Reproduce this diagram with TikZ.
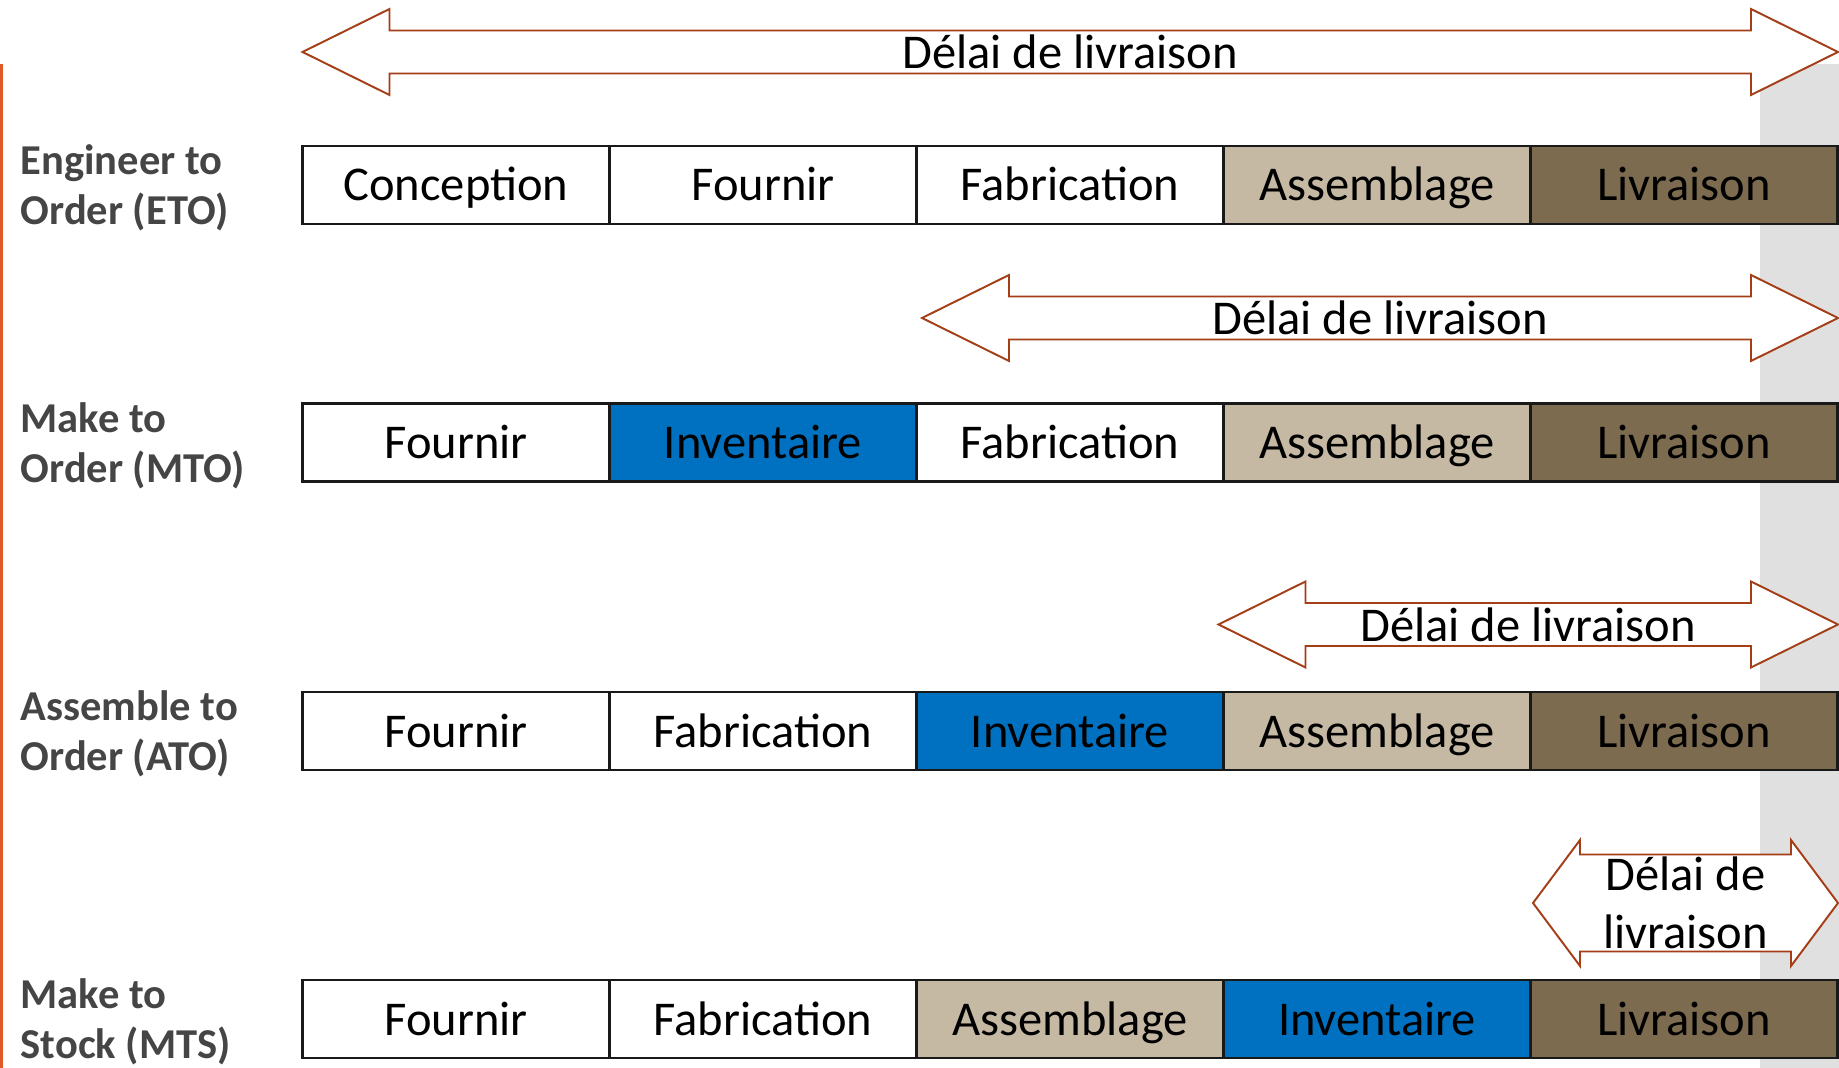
\documentclass[tikz,border=0pt]{standalone}
\usepackage{fontspec}
\setmainfont{Carlito}
\definecolor{bleuinv}{HTML}{0070C0}
\definecolor{beige}{HTML}{C5B9A4}
\definecolor{brun}{HTML}{7C6B4F}
\definecolor{rouille}{HTML}{A43E17}
\definecolor{orangebord}{HTML}{DD5A26}
\definecolor{grisbande}{HTML}{E0E0E0}
\definecolor{grislabel}{HTML}{454545}
\begin{document}
\begin{tikzpicture}[x=0.01cm,y=-0.01cm,line join=miter,
	etape/.style={draw=black!90,line width=0.8pt,minimum width=3.07cm,minimum height=0.78cm,inner sep=0pt,text height=0.32cm,text depth=0pt,font=\fontsize{13.8}{16}\selectfont},
	blanc/.style={fill=white},bleu/.style={fill=bleuinv},sable/.style={fill=beige},brunfonce/.style={fill=brun},
	modele/.style={anchor=west,align=left,inner sep=0pt,text=grislabel,font=\bfseries\fontsize{12.1}{14.3}\selectfont},
	fleche/.style={draw=rouille,fill=white,line width=0.55pt},
	delai/.style={align=center,inner sep=0pt,font=\fontsize{13.8}{16.5}\selectfont}]
	\useasboundingbox (0,0) rectangle (1839,1068);
	%%Bande
	\fill[grisbande] (1760,64) rectangle (1839,1068);
	\draw[orangebord,line width=0.85pt] (1.5,64)--(1.5,1068);
	%%Flèches
	\foreach \nom/\xa/\xb/\y/\h/\H/\s/\txt in {
		eto/302.5/1838/52/87/43/21.5/{Délai de livraison},
		mto/922/1838/318/87/43/21.5/{Délai de livraison},
		ato/1218.5/1838/624.5/87/43/21.5/{Délai de livraison},
		mts/1533/1838/903/47/63/48.5/{Délai de\\livraison}}{
		\draw[fleche] (\xa,\y)--++(\h,-\H)--++(0,\H-\s)--(\xb-\h,\y-\s)--++(0,\s-\H)--(\xb,\y)
			--++(-\h,\H)--++(0,\s-\H)--(\xa+\h,\y+\s)--++(0,\H-\s)--cycle;
		\node[delai] (d\nom) at ({(\xa+\xb)/2},\y) {\txt};
	}
	%%Étapes
	\foreach \etq/\coul [count=\i] in {Conception/blanc,Fournir/blanc,Fabrication/blanc,Assemblage/sable,Livraison/brunfonce}
		\node[etape,\coul] (eto\i) at ({149+307*\i},185) {\etq};
	\foreach \etq/\coul [count=\i] in {Fournir/blanc,Inventaire/bleu,Fabrication/blanc,Assemblage/sable,Livraison/brunfonce}
		\node[etape,\coul] (mto\i) at ({149+307*\i},442.5) {\etq};
	\foreach \etq/\coul [count=\i] in {Fournir/blanc,Fabrication/blanc,Inventaire/bleu,Assemblage/sable,Livraison/brunfonce}
		\node[etape,\coul] (ato\i) at ({149+307*\i},731) {\etq};
	\foreach \etq/\coul [count=\i] in {Fournir/blanc,Fabrication/blanc,Assemblage/sable,Inventaire/bleu,Livraison/brunfonce}
		\node[etape,\coul] (mts\i) at ({149+307*\i},1019) {\etq};
	%%Modèles
	\node[modele] (leto) at (20,188) {Engineer to\\Order (ETO)};
	\node[modele] (lmto) at (20,445.5) {Make to\\Order (MTO)};
	\node[modele] (lato) at (20,734) {Assemble to\\Order (ATO)};
	\node[modele] (lmts) at (20,1022) {Make to\\Stock (MTS)};
\end{tikzpicture}
\end{document}
